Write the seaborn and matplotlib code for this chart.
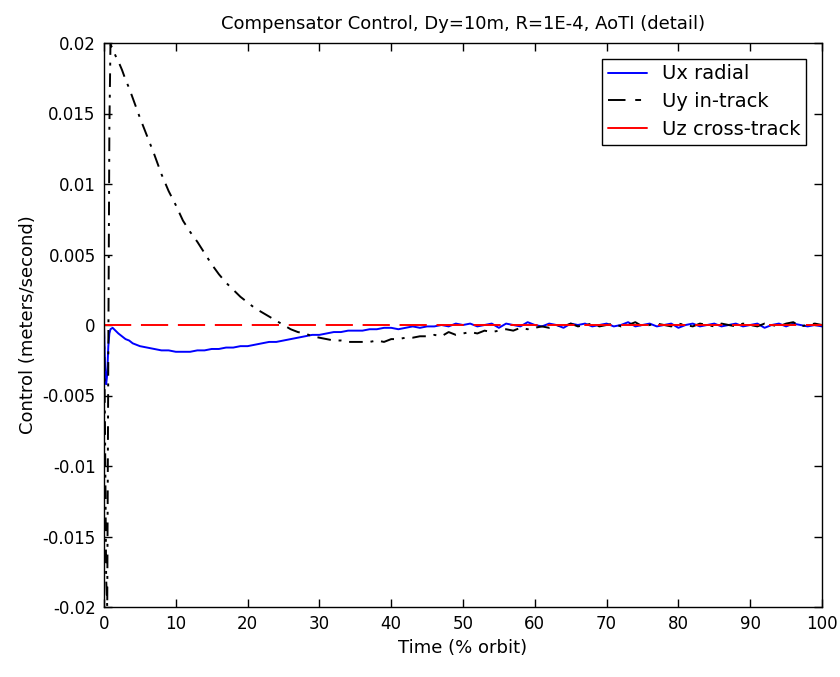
import matplotlib
matplotlib.use("Agg")
import matplotlib.pyplot as plt
import seaborn as sns
import pandas as pd

# ---- data ----
t = [0, 0.15, 0.3, 0.45, 0.6, 0.75, 0.9, 1.2, 1.6, 2, 2.5, 3, 3.5, 4, 4.5, 5,
     6, 7, 8, 9, 10, 11, 12, 13, 14, 15, 16, 17, 18, 19, 20,
     21, 22, 23, 24, 25, 26, 27, 28, 29, 30,
     31, 32, 33, 34, 35, 36, 37, 38, 39, 40,
     41, 42, 43, 44, 45, 46, 47, 48, 49, 50,
     51, 52, 53, 54, 55, 56, 57, 58, 59, 60,
     61, 62, 63, 64, 65, 66, 67, 68, 69, 70,
     71, 72, 73, 74, 75, 76, 77, 78, 79, 80,
     81, 82, 83, 84, 85, 86, 87, 88, 89, 90,
     91, 92, 93, 94, 95, 96, 97, 98, 99, 100]

ux = [0.0, -0.0030, -0.0042, -0.0035, -0.0015, -0.0006, -0.0003, -0.0002, -0.0004, -0.0006,
      -0.0008, -0.0010, -0.0011, -0.0013, -0.0014, -0.0015,
      -0.0016, -0.0017, -0.0018, -0.0018, -0.0019, -0.0019, -0.0019, -0.0018, -0.0018, -0.0017,
      -0.0017, -0.0016, -0.0016, -0.0015, -0.0015,
      -0.0014, -0.0013, -0.0012, -0.0012, -0.0011, -0.0010, -0.0009, -0.0008, -0.0007, -0.0007,
      -0.0006, -0.0005, -0.0005, -0.0004, -0.0004, -0.0004, -0.0003, -0.0003, -0.0002, -0.0002,
      -0.0003, -0.0002, -0.0001, -0.0002, -0.0001, -0.0001, 0.0000, -0.0001, 0.0001, 0.0000,
      0.0001, -0.0001, 0.0000, 0.0001, -0.0002, 0.0001, 0.0000, -0.0001, 0.0002, 0.0000,
      -0.0001, 0.0001, 0.0000, -0.0002, 0.0001, 0.0000, 0.0001, -0.0001, 0.0000, 0.0001,
      -0.0001, 0.0000, 0.0002, -0.0001, 0.0000, 0.0001, -0.0001, 0.0000, 0.0001, -0.0002,
      0.0000, 0.0001, -0.0001, 0.0000, 0.0001, -0.0001, 0.0000, 0.0001, -0.0001, 0.0000,
      0.0001, -0.0002, 0.0000, 0.0001, -0.0001, 0.0001, 0.0000, -0.0001, 0.0000, -0.0001]

uy = [0.0, -0.0080, -0.0180, -0.0200, -0.0020, 0.0140, 0.0199, 0.0196, 0.0191, 0.0187,
      0.0181, 0.0174, 0.0168, 0.0161, 0.0154, 0.0147,
      0.0134, 0.0121, 0.0107, 0.0095, 0.0085, 0.0074, 0.0066, 0.0059, 0.0051, 0.0043,
      0.0036, 0.0030, 0.0025, 0.0020, 0.0016,
      0.0012, 0.0009, 0.0006, 0.0003, 0.0000, -0.0003, -0.0005, -0.0006, -0.0008, -0.0009,
      -0.0010, -0.0011, -0.0011, -0.0012, -0.0012, -0.0012, -0.0012, -0.0011, -0.0012, -0.0010,
      -0.0010, -0.0009, -0.0009, -0.0008, -0.0008, -0.0007, -0.0008, -0.0005, -0.0007, -0.0006,
      -0.0005, -0.0006, -0.0004, -0.0005, -0.0004, -0.0003, -0.0004, -0.0002, -0.0003, -0.0002,
      -0.0001, -0.0002, 0.0000, -0.0001, 0.0001, -0.0001, 0.0000, 0.0001, -0.0001, 0.0000,
      0.0001, -0.0001, 0.0000, 0.0002, -0.0001, 0.0000, 0.0001, 0.0000, -0.0001, 0.0001,
      0.0000, -0.0001, 0.0001, 0.0000, -0.0001, 0.0001, 0.0000, -0.0001, 0.0001, 0.0000,
      -0.0001, 0.0001, 0.0000, -0.0001, 0.0001, 0.0002, -0.0001, 0.0000, 0.0001, 0.0000]

uz_t = [0, 10, 20, 30, 40, 50, 60, 70, 80, 90, 100]
uz = [0.0, 0.0, 0.0, 0.0, 0.0, 0.0, 0.0, 0.0, 0.0, 0.0, 0.0]

labels = ["Ux radial", "Uy in-track", "Uz cross-track"]
yticks = [-0.02, -0.015, -0.01, -0.005, 0, 0.005, 0.01, 0.015, 0.02]
ytick_labels = ["-0.02", "-0.015", "-0.01", "-0.005", "0", "0.005", "0.01", "0.015", "0.02"]
xticks = [0, 10, 20, 30, 40, 50, 60, 70, 80, 90, 100]

df = pd.concat([
    pd.DataFrame({"t": t, "u": ux, "series": labels[0]}),
    pd.DataFrame({"t": t, "u": uy, "series": labels[1]}),
    pd.DataFrame({"t": uz_t, "u": uz, "series": labels[2]}),
], ignore_index=True)

sns.set_theme(style="ticks")
plt.rcParams["font.family"] = ["DejaVu Sans"]
plt.rcParams["text.color"] = "black"
plt.rcParams["axes.labelcolor"] = "black"
plt.rcParams["xtick.color"] = "black"
plt.rcParams["ytick.color"] = "black"

fig = plt.figure(figsize=(8.4, 6.77), dpi=100)
ax = fig.add_axes([104 / 840, 1 - 607 / 677, (822 - 104) / 840, (607 - 43) / 677])

styles = {
    labels[0]: dict(color="#0000ff", linestyle="-"),
    labels[1]: dict(color="#000000", dashes=(7, 4, 1.5, 4)),
    labels[2]: dict(color="#ff0000", dashes=(14, 5)),
}
for name in labels:
    sub = df[df["series"] == name]
    sns.lineplot(data=sub, x="t", y="u", ax=ax, estimator=None, sort=False,
                 linewidth=1.4, label=name, **styles[name])

ax.set_xlim(0, 100)
ax.set_ylim(-0.02, 0.02)
ax.set_xticks(xticks)
ax.set_xticklabels([str(x) for x in xticks])
ax.set_yticks(yticks)
ax.set_yticklabels(ytick_labels)
ax.tick_params(direction="in", length=6, width=1, top=True, right=True,
               labelsize=12, pad=6, colors="black", labelcolor="black")
for s in ax.spines.values():
    s.set_visible(True)
    s.set_color("black")
    s.set_linewidth(1.0)

ax.set_title("Compensator Control, Dy=10m, R=1E-4, AoTI (detail)", fontsize=13,
             pad=10, color="black")
ax.set_xlabel("Time (% orbit)", fontsize=13, labelpad=4, color="black")
ax.set_ylabel("Control (meters/second)", fontsize=13, labelpad=4, color="black")

leg = ax.legend(loc="upper right", fontsize=14, frameon=True, fancybox=False,
                edgecolor="black", framealpha=1, handlelength=2.0, handletextpad=0.8,
                borderpad=0.3, labelspacing=0.45, borderaxespad=0.8)
leg.get_frame().set_linewidth(1.0)
for txt in leg.get_texts():
    txt.set_color("black")
leg_lines = leg.get_lines()
leg_lines[1].set_dashes((9, 5, 3, 5))
leg_lines[2].set_linestyle("-")

fig.savefig("out.png", dpi=100, facecolor="white")
